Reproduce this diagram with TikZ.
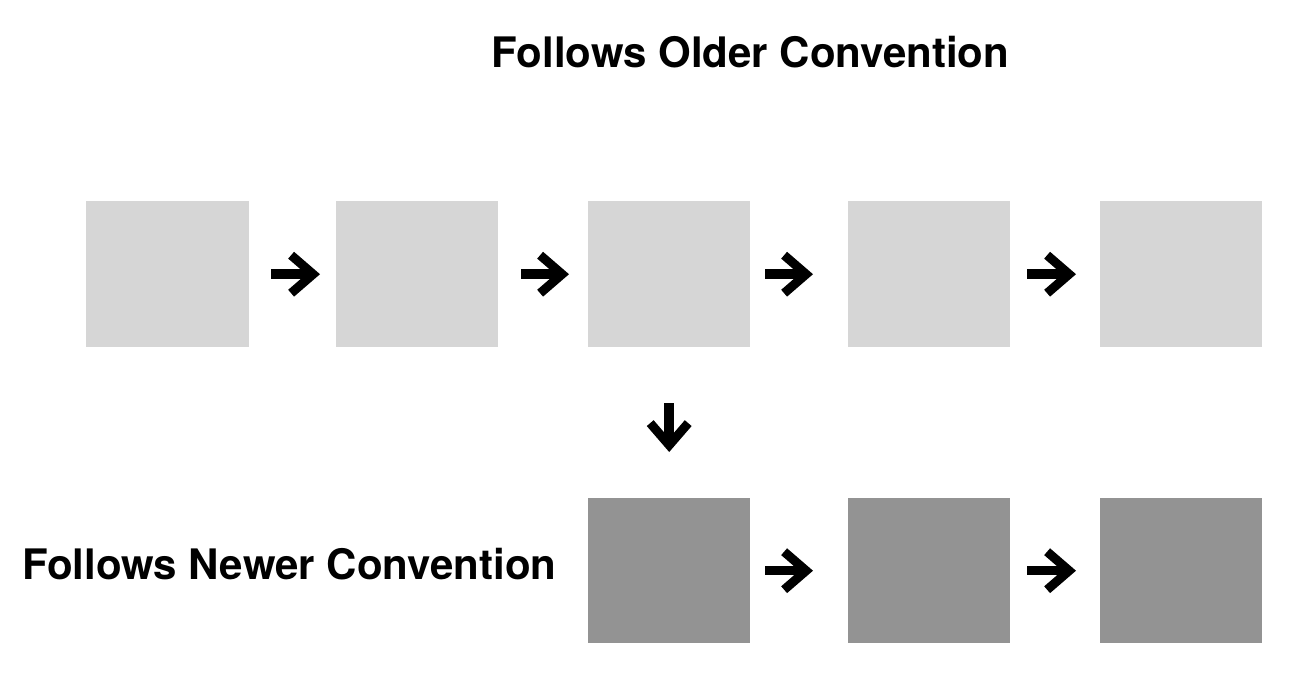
\documentclass[tikz,border=0pt]{standalone}
\usepackage{fontspec}
\setmainfont{TeX Gyre Heros}
\usetikzlibrary{arrows.meta}
\definecolor{lightbox}{HTML}{D6D6D6}
\definecolor{darkbox}{HTML}{939393}
\tikzset{
  boxlight/.style={fill=lightbox, draw=none, minimum width=163pt, minimum height=146pt, inner sep=0pt, anchor=north west},
  boxdark/.style={fill=darkbox, draw=none, minimum width=162pt, minimum height=145pt, inner sep=0pt, anchor=north west},
  arr/.style={line width=9.5pt, -{Straight Barb[length=22pt, width=38pt, line width=9pt, line join=miter, line cap=butt]}},
  title/.style={font=\fontsize{42}{50}\selectfont\bfseries, inner sep=0pt}
}
\begin{document}
\begin{tikzpicture}[x=1pt, y=-1pt]
\useasboundingbox (0,0) rectangle (1295,699);
\fill[white] (0,0) rectangle (1295,699);
\node[title, anchor=base] (t) at (750.5,67) {Follows Older Convention};
\node[title, anchor=base west] (n) at (22,579) {Follows Newer Convention};
\node[boxlight] (t1) at (86,201) {};
\node[boxlight, minimum width=162pt] (t2) at (336,201) {};
\node[boxlight, minimum width=162pt] (t3) at (588,201) {};
\node[boxlight, minimum width=162pt] (t4) at (848,201) {};
\node[boxlight, minimum width=162pt] (t5) at (1100,201) {};
\node[boxdark] (b3) at (588,498) {};
\node[boxdark] (b4) at (848,498) {};
\node[boxdark] (b5) at (1100,498) {};
\draw[arr, shorten <=22pt, shorten >=16pt] (t1) -- (t2);
\draw[arr, shorten <=23pt, shorten >=19pt] (t2) -- (t3);
\draw[arr, shorten <=15pt, shorten >=35pt] (t3) -- (t4);
\draw[arr, shorten <=17pt, shorten >=24pt] (t4) -- (t5);
\draw[arr, shorten <=56pt, shorten >=46pt] (t3) -- (b3);
\draw[arr, shorten <=15pt, shorten >=35pt] (b3) -- (b4);
\draw[arr, shorten <=17pt, shorten >=24pt] (b4) -- (b5);
\end{tikzpicture}
\end{document}
